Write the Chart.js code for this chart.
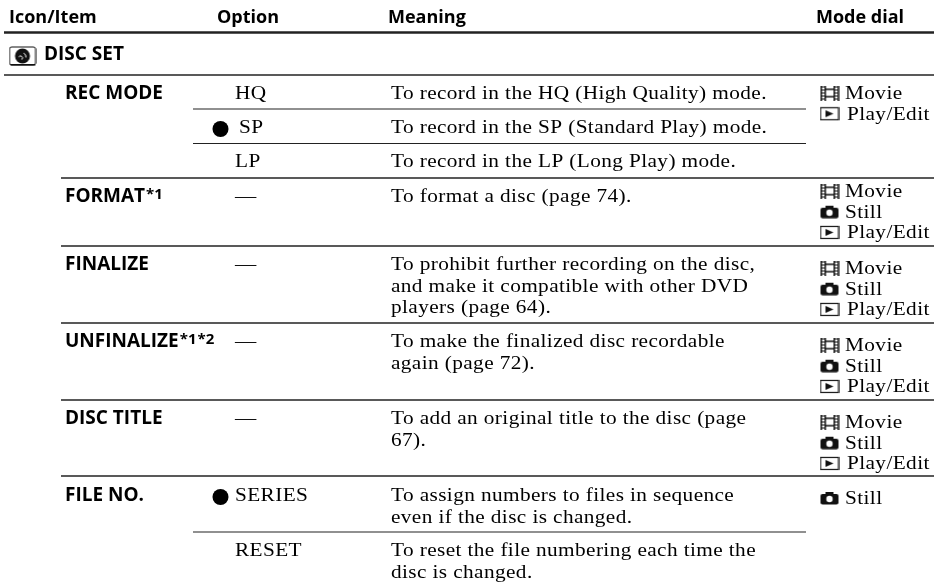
<!DOCTYPE html>
<html lang="en">
<head>
<meta charset="UTF-8">
<title>DISC SET menu table</title>
<script src="https://cdn.jsdelivr.net/npm/chart.js"></script>
<style>
  html, body { margin: 0; background: #fff; }
  canvas { display: block; }
</style>
</head>
<body>
<canvas id="tableChart" width="946" height="586"></canvas>
<script>
  // table content
  const headers = ['Icon/Item', 'Option', 'Meaning', 'Mode dial'];
  const section = 'DISC SET';
  const items = ['REC MODE', 'FORMAT*1', 'FINALIZE', 'UNFINALIZE*1*2', 'DISC TITLE', 'FILE NO.'];
  const options = ['HQ', 'SP', 'LP', '—', '—', '—', '—', 'SERIES', 'RESET'];
  const meanings = [
    ['To record in the HQ (High Quality) mode.'],
    ['To record in the SP (Standard Play) mode.'],
    ['To record in the LP (Long Play) mode.'],
    ['To format a disc (page 74).'],
    ['To prohibit further recording on the disc,', 'and make it compatible with other DVD', 'players (page 64).'],
    ['To make the finalized disc recordable', 'again (page 72).'],
    ['To add an original title to the disc (page', '67).'],
    ['To assign numbers to files in sequence', 'even if the disc is changed.'],
    ['To reset the file numbering each time the', 'disc is changed.']
  ];
  const modes = [
    ['Movie', 'Play/Edit'],
    ['Movie', 'Still', 'Play/Edit'],
    ['Movie', 'Still', 'Play/Edit'],
    ['Movie', 'Still', 'Play/Edit'],
    ['Movie', 'Still', 'Play/Edit'],
    ['Still']
  ];
  const selectedOptions = ['SP', 'SERIES'];

  // layout, in scale units (the scales run 1:1 with the page)
  const headerX = [9, 217, 388, 816];
  const headerY = 23;
  const itemX = 65;
  const itemY = [99, 202, 270, 347, 424, 501];
  const optionX = [235, 239, 235, 235, 235, 235, 235, 235, 235];
  const meaningX = 391;
  const rowY = [99, 133, 167, 202, 270, 347, 424, 501, 556];
  const linePitch = 21.5;
  const modeY = [99, 197, 274, 351, 428, 504];
  const modePitch = 20.7;
  const ruleY = [32.5, 75, 109, 143.5, 178, 246, 323, 400, 476, 532];
  const ruleFrom = [4, 4, 193, 193, 61, 61, 61, 61, 61, 193];
  const ruleTo = [934, 934, 806, 806, 934, 934, 934, 934, 934, 806];
  const ruleWidth = [2.4, 1.3, 1.2, 1.2, 1.3, 1.4, 1.4, 1.4, 1.4, 1.2];

  const headerFont = 'bold 18px "Open Sans"';
  const itemFont = 'bold 19px "Open Sans"';
  const noteFont = 'bold 15px "Open Sans"';
  const serifFont = '19px "Liberation Serif"';
  const serifSpacing = '0.35px';
  const serifStretch = 1.12;
  const overflow = 8; // chart.js keeps this much room for the bullet radius

  function makeIcon(w, h, draw) {
    const c = document.createElement('canvas');
    c.width = w;
    c.height = h;
    const g = c.getContext('2d');
    g.fillStyle = '#111';
    g.strokeStyle = '#111';
    draw(g);
    return c;
  }

  const filmIcon = makeIcon(20, 15, g => {
    g.fillRect(1, 0, 1.5, 15);
    g.fillRect(5, 0, 1.5, 15);
    g.fillRect(14, 0, 1.5, 15);
    g.fillRect(18, 0, 1.5, 15);
    g.fillRect(5, 3, 10, 1.5);
    g.fillRect(5, 10.5, 10, 1.5);
    for (let y = 1; y < 15; y += 3) {
      g.fillRect(1, y, 5, 1);
      g.fillRect(14, y, 5, 1);
    }
  });
  const cameraIcon = makeIcon(20, 14, g => {
    g.beginPath();
    g.roundRect(1, 3, 18, 10.5, 2);
    g.fill();
    g.fillRect(6, 1, 8, 3);
    g.fillStyle = '#fff';
    g.beginPath();
    g.arc(10, 8, 3.2, 0, Math.PI * 2);
    g.fill();
  });
  const playIcon = makeIcon(20, 15, g => {
    g.lineWidth = 1.2;
    g.strokeRect(1, 1.5, 18, 12);
    g.beginPath();
    g.moveTo(6, 4);
    g.lineTo(14, 7.5);
    g.lineTo(6, 11);
    g.closePath();
    g.fill();
  });
  const discIcon = makeIcon(28, 21, g => {
    g.lineWidth = 1;
    g.beginPath();
    g.roundRect(1, 1, 26, 18, 2);
    g.stroke();
    g.fillRect(2, 18, 25, 1.5);
    g.beginPath();
    g.arc(14, 10, 7.5, 0, Math.PI * 2);
    g.fill();
    g.strokeStyle = '#fff';
    g.lineWidth = 1;
    g.beginPath();
    g.arc(12, 12, 2, -2.6, 1);
    g.moveTo(15, 7);
    g.arc(13, 11, 4.5, -1, 0.1);
    g.stroke();
  });
  const iconFor = { Movie: filmIcon, Still: cameraIcon, 'Play/Edit': playIcon };
  const iconCenterX = 829.5;
  const modeTextX = { Movie: 845, Still: 845, 'Play/Edit': 847 };

  // rules: one two-point line per rule
  const ruleSets = ruleY.map((y, i) => ({
    type: 'line',
    data: [{ x: ruleFrom[i], y: y }, { x: ruleTo[i], y: y }],
    borderColor: '#222',
    borderWidth: ruleWidth[i],
    pointRadius: 0,
    clip: false
  }));

  // text points
  const headerPoints = headers.map((t, i) => ({ x: headerX[i], y: headerY, text: t }));
  const itemPoints = [{ x: 44, y: 60, text: section }];
  items.forEach((t, i) => itemPoints.push({ x: itemX, y: itemY[i], text: t }));

  const serifPoints = [];
  options.forEach((t, i) => serifPoints.push({ x: optionX[i], y: rowY[i], text: t }));
  meanings.forEach((lines, i) => lines.forEach((t, j) =>
    serifPoints.push({ x: meaningX, y: rowY[i] + j * linePitch, text: t })));

  const iconSets = {};
  modes.forEach((list, i) => list.forEach((m, j) => {
    const y = modeY[i] + j * modePitch;
    serifPoints.push({ x: modeTextX[m], y: y, text: m });
    (iconSets[m] = iconSets[m] || []).push({ x: iconCenterX, y: y - 6 });
  }));

  const bulletPoints = selectedOptions.map(o => ({ x: 220.5, y: rowY[options.indexOf(o)] - 4 }));

  const datasets = ruleSets.concat([
    { type: 'scatter', data: headerPoints, textFont: headerFont, pointRadius: 0, pointBorderWidth: 0, clip: false },
    { type: 'scatter', data: itemPoints, textFont: itemFont, pointRadius: 0, pointBorderWidth: 0, clip: false },
    { type: 'scatter', data: serifPoints, textFont: serifFont, textSpacing: serifSpacing, textStretch: serifStretch, pointRadius: 0, pointBorderWidth: 0, clip: false },
    { type: 'scatter', data: bulletPoints, pointRadius: 8, pointBackgroundColor: '#000', pointBorderWidth: 0, clip: false },
    { type: 'scatter', data: [{ x: 22.5, y: 56.5 }], pointStyle: discIcon, pointRadius: 0.2, pointBorderWidth: 0, clip: false }
  ]);
  Object.keys(iconSets).forEach(m => {
    datasets.push({ type: 'scatter', data: iconSets[m], pointStyle: iconFor[m], pointRadius: 0.2, pointBorderWidth: 0, clip: false });
  });

  // writes the text points where the scales put them
  const cellText = {
    id: 'cellText',
    afterDatasetsDraw(chart) {
      const ctx = chart.ctx;
      chart.data.datasets.forEach((ds, i) => {
        if (!ds.textFont) return;
        const stretch = ds.textStretch || 1;
        chart.getDatasetMeta(i).data.forEach((el, k) => {
          const parts = ds.data[k].text.split(/(?=\*)/);
          ctx.save();
          ctx.translate(el.x, el.y);
          ctx.scale(stretch, 1);
          ctx.fillStyle = '#000';
          ctx.textBaseline = 'alphabetic';
          ctx.letterSpacing = ds.textSpacing || '0px';
          ctx.font = ds.textFont;
          ctx.fillText(parts[0], 0, 0);
          let x = ctx.measureText(parts[0]).width;
          ctx.font = noteFont;
          parts.slice(1).forEach(p => {
            ctx.fillText(p, x + 1, -3);
            x += ctx.measureText(p).width + 1;
          });
          ctx.restore();
        });
      });
    }
  };

  new Chart(document.getElementById('tableChart'), {
    type: 'scatter',
    data: { datasets: datasets },
    plugins: [cellText],
    options: {
      responsive: false,
      animation: false,
      layout: { padding: 0 },
      plugins: { legend: { display: false }, tooltip: { enabled: false } },
      scales: {
        x: { type: 'linear', display: false, min: overflow, max: 946 - overflow },
        y: { type: 'linear', display: false, min: overflow, max: 586 - overflow, reverse: true }
      }
    }
  });
</script>
</body>
</html>
